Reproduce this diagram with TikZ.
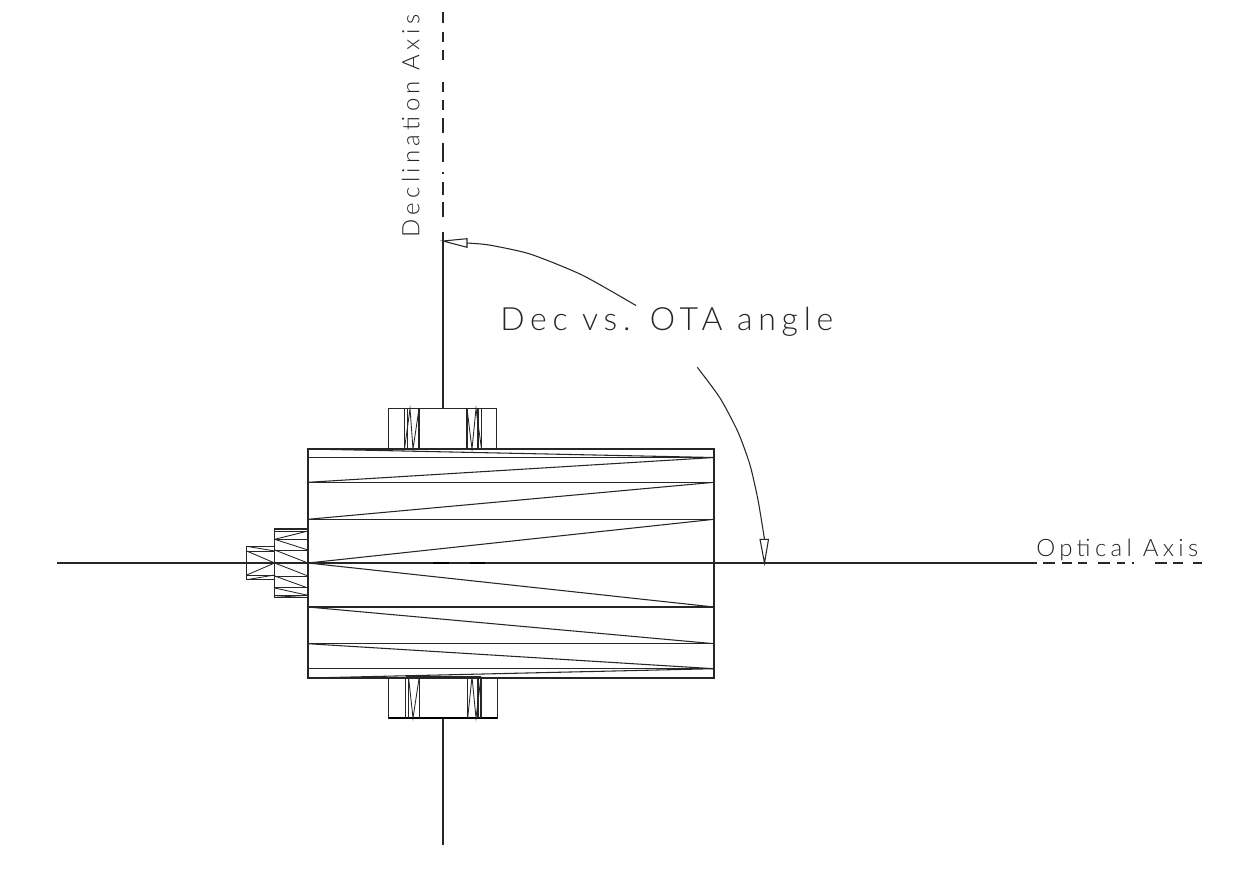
\documentclass[tikz,border=0pt]{standalone}
\usepackage{fontspec}
\newfontfamily\cadfont[UprightFont=* Light, LetterSpace=18]{Lato}
\tikzset{
    cadline/.style={line width=0.8pt, black!85},
    cadthin/.style={line width=0.65pt, black!85},
    cadlabel/.style={inner sep=0pt, anchor=base west, black!85, font=\cadfont\fontsize{#1}{#1}\selectfont},
}
\begin{document}
\begin{tikzpicture}[x=0.75pt, y=-0.75pt]
    \useasboundingbox (0, 0) rectangle (1237, 878);
    % axes
    \draw[cadline] (57, 563) -- (1037, 563);
    \foreach \a/\b in {1043/1055, 1062/1072, 1078/1087, 1098/1110, 1117/1125, 1132/1134, 1155/1167, 1173/1183, 1193/1202} {
        \draw[cadline] (\a, 563) -- (\b, 563);
    }
    \draw[line width=1.6pt] (433, 562.6) -- (449, 562.6);
    \draw[line width=1.6pt] (470, 562.6) -- (485, 562.6);
    \draw[cadline] (443, 232) -- (443, 408);
    \foreach \a/\b in {12/23, 32/42, 50/60, 82/92, 100/110, 118/133, 143/162, 172/174, 182/195, 202/217} {
        \draw[cadline] (443, \a) -- (443, \b);
    }
    \draw[cadline] (443, 718) -- (443, 845);
    % tube
    \draw[cadline] (308, 449) rectangle (714, 678);
    \foreach \y in {457.5, 482.3, 519.3, 607, 643.7, 668.7} {
        \draw[cadline] (308, \y) -- (714, \y);
    }
    \foreach \a/\b in {449/457.5, 482.3/457.5, 519.3/482.3, 563/519.3, 563/607, 607/643.7, 643.7/668.7, 678/668.7} {
        \draw[cadline] (308, \a) -- (714, \b);
    }
    % trunnions
    \draw[cadline] (388.5, 449) -- (388.5, 408.7) -- (496.7, 408.7) -- (496.7, 449);
    \foreach \x in {404.5, 407.5, 419, 467, 478, 481.5} {
        \draw[cadline] (\x, 408.7) -- (\x, 449);
    }
    \draw[cadthin] (404.5, 449) -- (410, 408.7) -- (413, 449) -- (419, 408.7);
    \draw[cadthin] (467, 408.7) -- (472, 449) -- (476, 408.7) -- (481.5, 449);
    \draw[cadline] (388.5, 678) -- (388.5, 718) -- (497.3, 718) -- (497.3, 678);
    \draw[line width=1.3pt] (388.5, 718) -- (497.3, 718);
    \draw[cadline] (405.5, 676.7) -- (481, 676.7);
    \foreach \x in {405.5, 408.5, 419.3, 467.7, 478, 481} {
        \draw[cadline] (\x, 676.7) -- (\x, 718);
    }
    \draw[cadthin] (408.5, 676.7) -- (413, 718) -- (419.3, 676.7);
    \draw[cadthin] (467.7, 718) -- (472, 676.7) -- (476, 718) -- (481, 676.7);
    % nut, large
    \draw[cadline] (274.7, 529) rectangle (308, 597.3);
    \foreach \y in {531, 539.3, 550, 576, 587.7, 595.3} {
        \draw[cadthin] (274.7, \y) -- (308, \y);
    }
    \foreach \a/\b in {539.3/531, 539.3/550, 550/563, 563/576, 576/588, 588/595.3, 597.3/595.3} {
        \draw[cadthin] (274.7, \a) -- (308, \b);
    }
    % nut, small
    \draw[cadline] (246.7, 546.3) rectangle (274.7, 579.7);
    \foreach \y in {551, 575} {
        \draw[cadthin] (246.7, \y) -- (274.7, \y);
    }
    \foreach \a/\b in {546.3/551, 551/563, 575/563, 579.7/575} {
        \draw[cadthin] (246.7, \a) -- (274.7, \b);
    }
    % leaders
    \coordinate (decTip) at (443, 241);
    \coordinate (decBaseA) at (467, 238.7);
    \coordinate (decBaseB) at (467, 247.3);
    \coordinate (decBase) at (467, 243);
    \coordinate (decEnd) at (636, 305.5);
    \coordinate (optTip) at (764.5, 563);
    \coordinate (optBaseA) at (760, 539.3);
    \coordinate (optBaseB) at (768.5, 539.3);
    \coordinate (optBase) at (764.5, 539.3);
    \coordinate (optEnd) at (697.3, 367.3);
    \draw[cadline] (decTip) -- (decBaseA) -- (decBaseB) -- cycle;
    \draw[cadline] (optTip) -- (optBaseA) -- (optBaseB) -- cycle;
    \draw[cadline] plot[smooth, tension=0.4] coordinates {(decBase) (489, 245) (530, 254) (582, 275) (decEnd)};
    \draw[cadline] plot[smooth, tension=0.4] coordinates {(optEnd) (720, 398) (738, 432) (750, 465) (758, 500) (optBase)};
    % labels
    \node[cadlabel=24] (angleText) at (500, 330) {Dec vs. OTA angle};
    \node[cadlabel=18] (opticalText) at (1036, 556.7) {Optical Axis};
    \node[cadlabel=18, rotate=90] (declinationText) at (419.3, 238) {Declination Axis};
\end{tikzpicture}
\end{document}
